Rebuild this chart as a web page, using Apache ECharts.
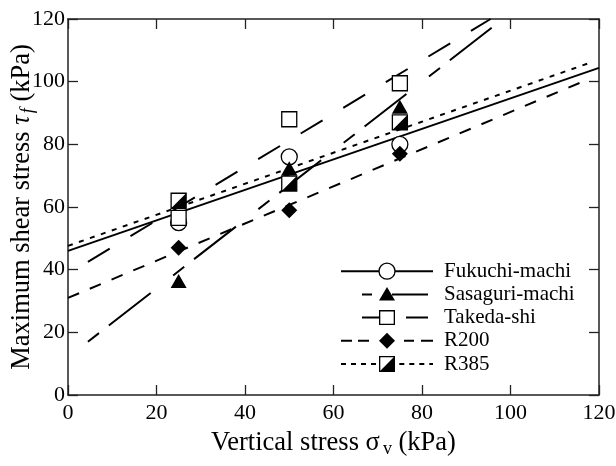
<!DOCTYPE html>
<html><head><meta charset="utf-8">
<script src="https://cdn.jsdelivr.net/npm/echarts@6/dist/echarts.min.js"></script>
<style>html,body{margin:0;padding:0;background:#fff}#c{width:616px;height:466px}</style>
</head><body><div id="c"></div>
<script>
// ---- data ----
const stressX = [25, 50, 75];
const fukuchi = [55, 76, 80];
const sasaguri = [36.4, 72.4, 92];
const takeda = [56.5, 88, 99.5];
const r200 = [47, 59, 77];
const r385 = [62, 67.5, 87];
// fitted lines: [x, y] end points as drawn
const fukuchiFit = [[0, 46], [120, 104.4]];
const sasaguriFit = [[4.5, 17], [97, 118.6]];
const takedaFit = [[4.5, 42.5], [95.5, 120]];
const r200Fit = [[0, 31], [118, 101]];
const r385Fit = [[0, 47.6], [118.5, 106.3]];
const names = ['Fukuchi-machi', 'Sasaguri-machi', 'Takeda-shi', 'R200', 'R385'];
const axisMin = 0, axisMax = 120, axisStep = 20;

const FONT = 'Liberation Serif';
const pts = ys => stressX.map((x, i) => [x, ys[i]]);

const ICON_SASAGURI = 'path://M0 0 M92 20 M21 9 L31 9 L31 11 L21 11 Z M46 2.5 L54 16 L38 16 Z M51 9 L87 9 L87 11 L51 11 Z';
const ICON_TAKEDA = 'path://M0 0 M92 20 M21 9 L38 9 L38 11 L21 11 Z M38 2.5 L54 2.5 L54 17.5 L38 17.5 Z M39.3 3.8 L39.3 16.2 L52.7 16.2 L52.7 3.8 Z M65 9 L87 9 L87 11 L65 11 Z';
const ICON_R200 = 'path://M0 0 M92 20 M0 9 L11 9 L11 11 L0 11 Z M17 9 L28 9 L28 11 L17 11 Z M46 2 L54 10 L46 18 L38 10 Z M63 9 L73 9 L73 11 L63 11 Z M80 9 L92 9 L92 11 L80 11 Z';
const ICON_R385 = 'path://M0 0 M92 20 M0 9 L5 9 L5 11 L0 11 Z M10 9 L15 9 L15 11 L10 11 Z M20 9 L25 9 L25 11 L20 11 Z M30 9 L35 9 L35 11 L30 11 Z M38 2 L54 2 L54 18 L38 18 Z M39.3 3.3 L39.3 16.7 L52.7 3.3 Z M58.3 9 L63.3 9 L63.3 11 L58.3 11 Z M68.3 9 L73.3 9 L73.3 11 L68.3 11 Z M78.3 9 L83.3 9 L83.3 11 L78.3 11 Z M88.3 9 L92 9 L92 11 L88.3 11 Z';

const axisCommon = {
  type: 'value', min: axisMin, max: axisMax, interval: axisStep,
  axisLine: {show: true, onZero: false, lineStyle: {color: '#222', width: 1.5}},
  axisTick: {show: true, inside: true, length: 10, lineStyle: {color: '#222', width: 1.3}},
  splitLine: {show: false},
  axisLabel: {fontFamily: FONT, fontSize: 22, color: '#000'}
};

function lineSeries(name, data, type, extra) {
  return Object.assign({
    name, type: 'line', data, symbol: 'none', showSymbol: false, silent: true,
    lineStyle: {color: '#000', width: 2, type},
    itemStyle: {color: '#000', borderWidth: 0},
    z: 2
  }, extra || {});
}
function scatter(name, data, symbol, size, style, z) {
  return {name, type: 'scatter', data, symbol, symbolSize: size, itemStyle: style, z: z || 3, silent: true};
}

const openStyle = {color: '#fff', borderColor: '#000', borderWidth: 1.3, opacity: 1};
const fillStyle = {color: '#000', borderWidth: 0, opacity: 1};

const option = {
  animation: false,
  backgroundColor: '#fff',
  grid: {left: 68, right: 17, top: 19, bottom: 71, containLabel: false, outerBoundsMode: 'none'},
  xAxis: [
    Object.assign({}, axisCommon, {
      position: 'bottom',
      axisLabel: Object.assign({}, axisCommon.axisLabel, {margin: 7}),
      name: '{a|Vertical stress }{g|σ}{s|v}{a| (kPa)}',
      nameLocation: 'middle', nameGap: 33, nameMoveOverlap: false,
      nameTextStyle: {fontFamily: FONT, fontSize: 26.5, color: '#000', rich: {
        a: {fontFamily: FONT, fontSize: 26.5, color: '#000', lineHeight: 30},
        g: {fontFamily: FONT, fontSize: 26.5, color: '#000', lineHeight: 30, padding: [0, 3, 0, 0]},
        s: {fontFamily: FONT, fontSize: 18, color: '#000', lineHeight: 14, verticalAlign: 'bottom'}
      }}
    }),
    Object.assign({}, axisCommon, {position: 'top', axisLabel: {show: false}})
  ],
  yAxis: [
    Object.assign({}, axisCommon, {
      position: 'left',
      axisLabel: Object.assign({}, axisCommon.axisLabel, {margin: 3}),
      name: '{a|Maximum shear stress }{t|τ}{f|f}{a| (kPa)}',
      nameLocation: 'middle', nameGap: 31, nameMoveOverlap: false,
      nameTextStyle: {fontFamily: FONT, fontSize: 26.5, color: '#000', rich: {
        a: {fontFamily: FONT, fontSize: 26.5, color: '#000', lineHeight: 30},
        t: {fontFamily: FONT, fontSize: 26.5, fontStyle: 'italic', color: '#000', lineHeight: 30, padding: [0, 2, 0, 0]},
        f: {fontFamily: FONT, fontSize: 18, fontStyle: 'italic', color: '#000', lineHeight: 14, verticalAlign: 'bottom'}
      }}
    }),
    Object.assign({}, axisCommon, {position: 'right', axisLabel: {show: false}})
  ],
  legend: {
    orient: 'vertical', left: 340, top: 260.7, padding: 0,
    itemWidth: 92, itemHeight: 20, itemGap: 2.2,
    selectedMode: false,
    textStyle: {fontFamily: FONT, fontSize: 21, color: '#000', lineHeight: 20, padding: [0, 0, 0, 6]},
    data: [
      {name: names[0], itemStyle: {borderWidth: 1.3, borderColor: '#000', opacity: 1}},
      {name: names[1], icon: ICON_SASAGURI, itemStyle: {borderWidth: 0, opacity: 1}},
      {name: names[2], icon: ICON_TAKEDA, itemStyle: {borderWidth: 0, opacity: 1}},
      {name: names[3], icon: ICON_R200, itemStyle: {borderWidth: 0, opacity: 1}},
      {name: names[4], icon: ICON_R385, itemStyle: {borderWidth: 0, opacity: 1}}
    ]
  },
  series: [
    lineSeries(names[0], fukuchiFit, 'solid', {symbol: 'circle', itemStyle: openStyle}),
    lineSeries(names[1], sasaguriFit, [14, 12.5, 53, 28.5]),
    lineSeries(names[2], takedaFit, [25.5, 24.2]),
    lineSeries(names[3], r200Fit, [12, 11.6]),
    lineSeries(names[4], r385Fit, [5, 6.6]),
    scatter(names[0], pts(fukuchi), 'circle', 16, openStyle),
    scatter(names[1], pts(sasaguri), 'triangle', [16, 14], fillStyle),
    scatter(names[2], pts(takeda), 'rect', 15, openStyle),
    scatter(names[3], pts(r200), 'diamond', 16, fillStyle),
    scatter(names[4], pts(r385), 'rect', 15, openStyle, 4),
    scatter(names[4], pts(r385), 'path://M16 0 L16 16 L0 16 Z', 15, fillStyle, 5)
  ]
};
echarts.init(document.getElementById('c')).setOption(option);
</script>
</body></html>
